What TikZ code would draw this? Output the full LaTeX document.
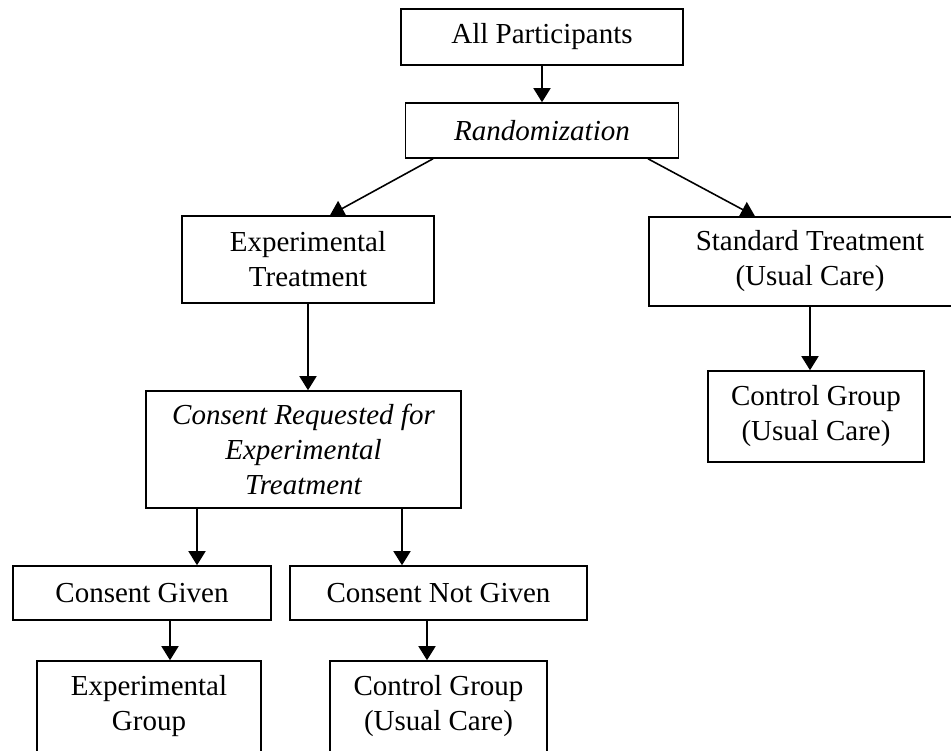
\documentclass[tikz,border=0pt]{standalone}
\usepackage{fontspec}
\setmainfont{Liberation Serif}
\usetikzlibrary{arrows.meta}

\tikzset{
    box/.style={draw, line width=0.9pt, inner sep=0pt, align=center,
        font=\fontsize{16.5}{19.9}\selectfont},
    ibox/.style={box, font=\fontsize{16.5}{19.9}\selectfont\itshape},
    arr/.style={line width=0.9pt, -{Triangle[length=0.28cm,width=0.34cm]}}
}

\begin{document}
\begin{tikzpicture}[scale=1.0]
    % Page frame (boxes run off the right and bottom edges)
    \clip (0,0) rectangle (19.02,-15.02);

    % Top of the flow
    \node[box, minimum width=5.64cm, minimum height=1.12cm] (all) at (10.84,-0.74) {All Participants};
    \node[ibox, minimum width=5.46cm, minimum height=1.10cm] (rand) at (10.84,-2.61) {Randomization};

    % The two arms
    \node[box, minimum width=5.04cm, minimum height=1.74cm] (expt) at (6.16,-5.19) {Experimental\\Treatment};
    \node[box, minimum width=6.44cm, minimum height=1.78cm] (std) at (16.20,-5.23) {Standard Treatment\\(Usual Care)};
    \node[box, minimum width=4.32cm, minimum height=1.82cm] (ctrlr) at (16.32,-8.33) {Control Group\\(Usual Care)};

    % Consent step
    \node[ibox, minimum width=6.30cm, minimum height=2.34cm] (req) at (6.07,-8.99) {Consent Requested for\\Experimental\\Treatment};
    \node[box, minimum width=5.16cm, minimum height=1.08cm] (given) at (2.84,-11.86) {Consent Given};
    \node[box, minimum width=5.94cm, minimum height=1.08cm] (notgiven) at (8.77,-11.86) {Consent Not Given};

    % Final groups
    \node[box, minimum width=4.48cm, minimum height=1.82cm] (expg) at (2.98,-14.13) {Experimental\\Group};
    \node[box, minimum width=4.34cm, minimum height=1.82cm] (ctrlg) at (8.77,-14.13) {Control Group\\(Usual Care)};

    % Connectors
    \draw[arr] (all) -- (rand);
    \draw[arr] ([xshift=-2.18cm]rand.south) -- ([xshift=0.44cm]expt.north);
    \draw[arr] ([xshift=2.12cm]rand.south) -- ([xshift=-1.10cm]std.north);
    \draw[arr] (expt.south) -- (expt.south |- req.north);
    \draw[arr] (std.south) -- (std.south |- ctrlr.north);

    \coordinate (reqL) at ([xshift=-2.13cm]req.south);
    \coordinate (reqR) at ([xshift=1.97cm]req.south);
    \draw[arr] (reqL) -- (reqL |- given.north);
    \draw[arr] (reqR) -- (reqR |- notgiven.north);

    \coordinate (givenS) at ([xshift=0.56cm]given.south);
    \coordinate (notgivenS) at ([xshift=-0.23cm]notgiven.south);
    \draw[arr] (givenS) -- (givenS |- expg.north);
    \draw[arr] (notgivenS) -- (notgivenS |- ctrlg.north);
\end{tikzpicture}
\end{document}
